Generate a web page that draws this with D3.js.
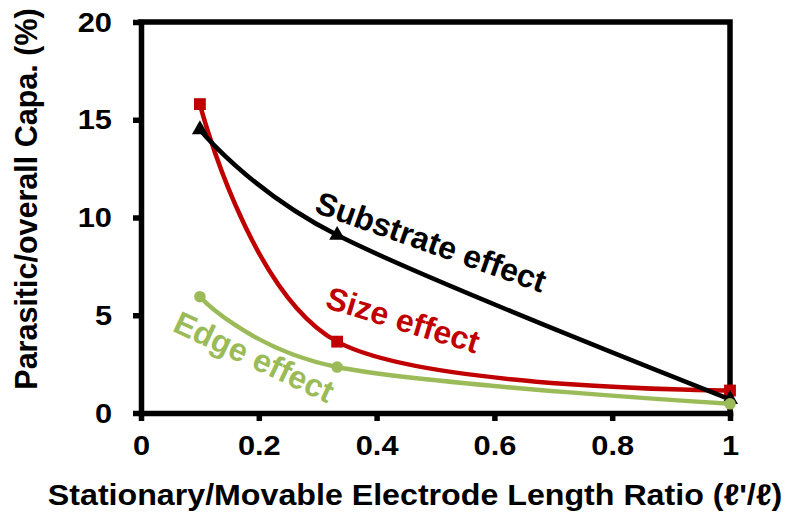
<!DOCTYPE html>
<html>
<head>
<meta charset="utf-8">
<script src="https://cdn.jsdelivr.net/npm/d3@7"></script>
<style>
  body { margin: 0; background: #fff; }
  text { font-family: "Liberation Sans", Arial, sans-serif; font-weight: bold; }
</style>
</head>
<body>
<svg id="chart" width="801" height="523"></svg>
<script>
// Length ratio l'/l at which each effect was evaluated
const ratios = [0.1, 0.333, 1];
// Parasitic share of overall capacitance (%)
const sizeEffect = [15.8, 3.65, 1.15];
const substrateEffect = [14.5, 9.1, 0.7];
const edgeEffect = [5.95, 2.35, 0.47];

const xTicks = [0, 0.2, 0.4, 0.6, 0.8, 1];
const yTicks = [0, 5, 10, 15, 20];

const xTitle = "Stationary/Movable Electrode Length Ratio (\u2113'/\u2113)";
const yTitle = "Parasitic/overall Capa. (%)";

const svg = d3.select("#chart");
const plotL = 141, plotR = 730, plotT = 22, plotB = 413;

const x = d3.scaleLinear().domain([0, 1]).range([plotL, plotR]);
const y = d3.scaleLinear().domain([0, 20]).range([plotB, plotT]);

const AXIS_W = 5.5;
const STRETCH = 1.08; // text is set slightly wide

// Axes
const gx = svg.append("g")
  .attr("transform", `translate(0,${plotB})`)
  .call(d3.axisBottom(x).tickValues(xTicks).tickFormat(d3.format("~g"))
    .tickSize(8).tickSizeOuter(0).tickPadding(14));
const gy = svg.append("g")
  .attr("transform", `translate(${plotL},0)`)
  .call(d3.axisLeft(y).tickValues(yTicks).tickFormat(d3.format("~g"))
    .tickSize(8).tickSizeOuter(0).tickPadding(21));

[gx, gy].forEach(g => {
  g.select(".domain").attr("stroke", "#000").attr("stroke-width", AXIS_W).attr("stroke-linecap", "square");
  g.selectAll(".tick line").attr("stroke", "#000").attr("stroke-width", AXIS_W);
  g.selectAll(".tick text").attr("fill", "#000").attr("font-size", 28.5)
    .style("font-family", "'Liberation Sans', Arial, sans-serif").style("font-weight", "bold");
});
// widen tick labels about their anchor
gx.selectAll(".tick text").attr("transform", `scale(${STRETCH},1)`);
gy.selectAll(".tick text").each(function() {
  const t = d3.select(this);
  const tx = +t.attr("x");
  t.attr("transform", `translate(${tx},0) scale(${STRETCH},1)`).attr("x", 0);
});

// Top and right frame
svg.append("path")
  .attr("d", `M${plotL},${plotT}H${plotR}V${plotB}`)
  .attr("fill", "none").attr("stroke", "#000").attr("stroke-width", AXIS_W)
  .attr("stroke-linecap", "square").attr("stroke-linejoin", "miter");

// Axis titles
svg.append("text")
  .attr("transform", `translate(415,505) scale(${STRETCH},1)`)
  .attr("text-anchor", "middle").attr("font-size", 29.8)
  .text(xTitle);
svg.append("text")
  .attr("transform", `translate(37,199) rotate(-90)`)
  .attr("text-anchor", "middle").attr("font-size", 30.5)
  .text(yTitle);

// Series
const series = [
  { name: "size", values: sizeEffect, color: "#C00000", marker: "square" },
  { name: "substrate", values: substrateEffect, color: "#000000", marker: "triangle" },
  { name: "edge", values: edgeEffect, color: "#9BBB59", marker: "circle" }
];

const line = d3.line()
  .x((d, i) => x(ratios[i]))
  .y(d => y(d))
  .curve(d3.curveCardinal.tension(0));

series.forEach(s => {
  svg.append("path")
    .datum(s.values)
    .attr("d", line)
    .attr("fill", "none")
    .attr("stroke", s.color)
    .attr("stroke-width", 4.5)
    .attr("stroke-linejoin", "round");

  const symType = s.marker === "square" ? d3.symbolSquare
    : s.marker === "triangle" ? d3.symbolTriangle : d3.symbolCircle;
  const symSize = s.marker === "square" ? 140 : s.marker === "triangle" ? 110 : 105;
  svg.append("g").selectAll("path")
    .data(s.values)
    .join("path")
    .attr("transform", (d, i) => `translate(${x(ratios[i])},${y(d)})`)
    .attr("d", d3.symbol().type(symType).size(symSize))
    .attr("fill", s.color);
});

// Curve annotations
const notes = [
  { text: "Substrate effect", cx: 431, cy: 242, angle: 19.5, color: "#000000" },
  { text: "Size effect", cx: 403, cy: 320, angle: 17, color: "#C00000" },
  { text: "Edge effect", cx: 254, cy: 357, angle: 25, color: "#9BBB59" }
];
svg.selectAll("text.note")
  .data(notes)
  .join("text")
  .attr("class", "note")
  .attr("transform", d => `translate(${d.cx},${d.cy}) rotate(${d.angle})`)
  .attr("text-anchor", "middle")
  .attr("dominant-baseline", "central")
  .attr("font-size", 32)
  .attr("fill", d => d.color)
  .text(d => d.text);
</script>
</body>
</html>
